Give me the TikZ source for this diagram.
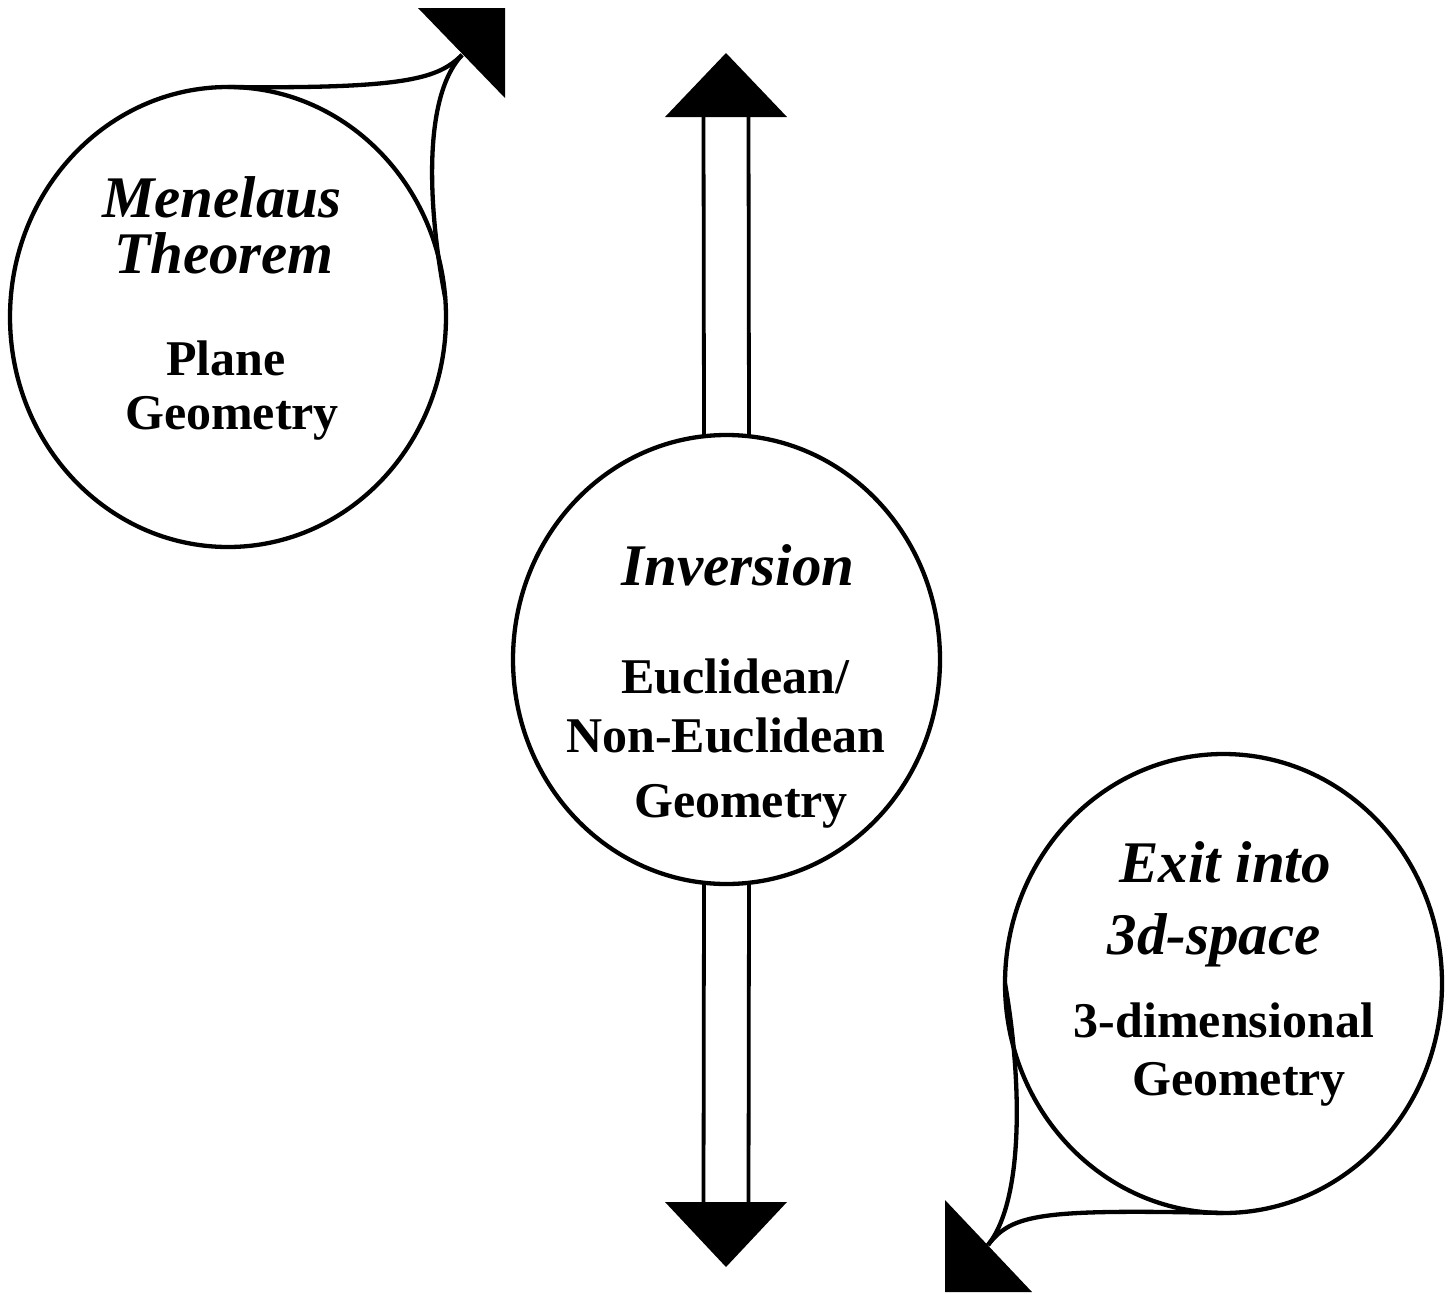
\documentclass[tikz,border=0pt]{standalone}
\usepackage{fontspec}
\setmainfont{Liberation Serif}
\usetikzlibrary{shapes.geometric,calc}
\tikzset{
  bubble/.style={draw, ellipse, line width=4.3pt, inner sep=0pt, outer sep=0pt},
  conn/.style={line width=4.3pt},
  shaft/.style={line width=3.8pt},
  head/.style={fill=black},
  ttl/.style={font=\fontsize{59}{61}\selectfont\bfseries\itshape, anchor=base, inner sep=0pt},
  sub/.style={font=\fontsize{50}{52}\selectfont\bfseries, anchor=base, inner sep=0pt},
}
\begin{document}
\begin{tikzpicture}[x=1pt,y=-1pt]
\useasboundingbox (0,0) rectangle (1453,1293);
% bubbles
\node[bubble, minimum width=436pt, minimum height=460pt] (c1) at (228,317) {};
\node[bubble, minimum width=427pt, minimum height=449pt] (c2) at (726.5,659.5) {};
\node[bubble, minimum width=437pt, minimum height=459pt] (c3) at (1223.5,983.5) {};
% texts
\node[ttl] (t1a) at (222,217) {Menelaus};
\node[ttl] (t1b) at (224,273) {Theorem};
\node[sub] (s1a) at (226,375) {Plane};
\node[sub] (s1b) at (232,429) {Geometry};
\node[ttl] (t2a) at (738,585) {Inversion};
\node[sub] (s2a) at (735,693) {Euclidean/};
\node[sub] (s2b) at (726,752) {Non-Euclidean};
\node[sub] (s2c) at (741,817) {Geometry};
\node[ttl] (t3a) at (1225,882) {Exit into};
\node[ttl] (t3b) at (1214,954) {3d-space};
\node[sub] (s3a) at (1224,1037) {3-dimensional};
\node[sub] (s3b) at (1239,1095) {Geometry};
% top-left callout arrow
\coordinate (tipA) at (505,8);
\coordinate (bA1) at (418,8);
\coordinate (bA2) at (505,98);
\coordinate (mA) at (462,55);
\fill[head] (tipA) -- (bA1) -- (bA2) -- cycle;
\draw[conn] (c1.north) .. controls (410,89) and (438,78) .. (mA);
\draw[conn] (c1.5) .. controls (430,220) and (420,100) .. (mA);
% bottom-right callout arrow
\coordinate (tipB) at (945,1292);
\coordinate (bB1) at (945,1200);
\coordinate (bB2) at (1032,1292);
\coordinate (mB) at (988,1245);
\fill[head] (tipB) -- (bB1) -- (bB2) -- cycle;
\draw[conn] (c3.south) .. controls (1040,1209) and (1012,1214) .. (mB);
\draw[conn] (c3.west) .. controls (1022,1080) and (1024,1200) .. (mB);
% vertical double arrow
\coordinate (upbase) at (726,117);
\coordinate (uptip) at (726,53);
\coordinate (dnbase) at (726,1202);
\coordinate (dntip) at (726,1267);
\draw[shaft] ([xshift=-22.5pt]c2.north) -- ([xshift=-22.5pt]upbase);
\draw[shaft] ([xshift=22.5pt]c2.north) -- ([xshift=22.5pt]upbase);
\fill[head] (uptip) -- ([xshift=-61pt]upbase) -- ([xshift=61pt]upbase) -- cycle;
\draw[shaft] ([xshift=-22.5pt]c2.south) -- ([xshift=-22.5pt]dnbase);
\draw[shaft] ([xshift=22.5pt]c2.south) -- ([xshift=22.5pt]dnbase);
\fill[head] (dntip) -- ([xshift=-61pt]dnbase) -- ([xshift=61pt]dnbase) -- cycle;
\end{tikzpicture}
\end{document}
